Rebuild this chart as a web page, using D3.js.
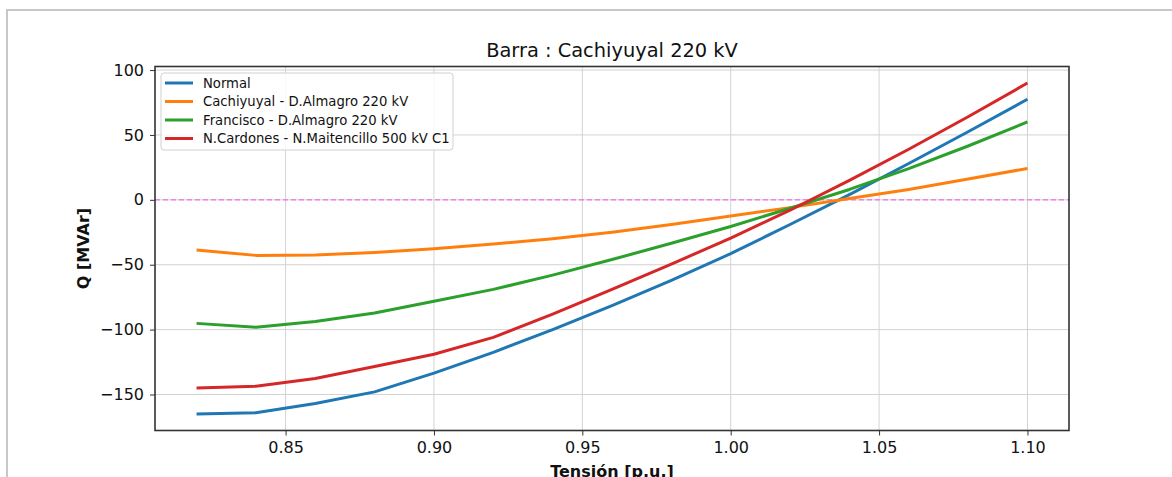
<!DOCTYPE html>
<html>
<head>
<meta charset="utf-8">
<script src="https://cdn.jsdelivr.net/npm/d3@7"></script>
<style>
  html, body { margin: 0; padding: 0; background: #fff; }
  svg { display: block; font-family: "DejaVu Sans", sans-serif; }
</style>
</head>
<body>
<svg id="chart" width="1172" height="477"></svg>
<script>
// Voltage sweep (p.u.)
const tension = [0.82, 0.84, 0.86, 0.88, 0.90, 0.92, 0.94, 0.96, 0.98, 1.00, 1.02, 1.04, 1.06, 1.08, 1.10];

// Reactive power per contingency (MVAr)
const qNormal      = [-165, -164, -157, -148, -133.5, -117.5, -100, -81.5, -62, -41.5, -19, 4, 28, 52.5, 77.5];
const qCachiyuyal  = [-38.7, -42.8, -42.6, -40.5, -37.7, -34, -30, -25, -19, -12.5, -6, 1, 8, 16, 24.2];
const qFrancisco   = [-95.2, -98.2, -93.8, -87.2, -78.2, -69, -58, -46, -33.5, -20.5, -6.5, 8, 24, 41.5, 60];
const qCardones    = [-145, -143.6, -137.7, -128.5, -119, -106, -88, -69, -49.5, -29.5, -8, 15, 39, 64, 90];

const seriesNames  = ["Normal", "Cachiyuyal - D.Almagro 220 kV", "Francisco - D.Almagro 220 kV", "N.Cardones - N.Maitencillo 500 kV C1"];
const seriesColors = ["#1f77b4", "#ff7f0e", "#2ca02c", "#d62728"];

const xTicks = [0.85, 0.90, 0.95, 1.00, 1.05, 1.10];
const yTicks = [-150, -100, -50, 0, 50, 100];

const titleText = "Barra : Cachiyuyal 220 kV";
const xLabel = "Tensión [p.u.]";
const yLabel = "Q [MVAr]";

const series = [qNormal, qCachiyuyal, qFrancisco, qCardones].map((vals, i) => ({
  name: seriesNames[i],
  color: seriesColors[i],
  points: tension.map((t, j) => [t, vals[j]])
}));

const svg = d3.select("#chart");
const W = 1172, H = 477;

// outer frame
svg.append("line").attr("x1", 6).attr("x2", W).attr("y1", 10).attr("y2", 10)
  .attr("stroke", "#c8c8c8").attr("stroke-width", 2);
svg.append("line").attr("x1", 7).attr("x2", 7).attr("y1", 9).attr("y2", H)
  .attr("stroke", "#c8c8c8").attr("stroke-width", 2);

const plot = { left: 155, right: 1069, top: 66.5, bottom: 430.5 };

// 5% padding around the data extent
const allVals = series.flatMap(s => s.points.map(p => p[1]));
const xMin = d3.min(tension), xMax = d3.max(tension);
const yMin = d3.min(allVals), yMax = d3.max(allVals);
const xPad = (xMax - xMin) * 0.05, yPad = (yMax - yMin) * 0.05;

const x = d3.scaleLinear().domain([xMin - xPad, xMax + xPad]).range([plot.left, plot.right]);
const y = d3.scaleLinear().domain([yMin - yPad, yMax + yPad]).range([plot.bottom, plot.top]);

// grid
const grid = svg.append("g");
grid.selectAll(".gx").data(xTicks).join("line")
  .attr("x1", d => x(d)).attr("x2", d => x(d))
  .attr("y1", plot.top).attr("y2", plot.bottom)
  .attr("stroke", "#d3d3d3").attr("stroke-width", 1);
grid.selectAll(".gy").data(yTicks).join("line")
  .attr("x1", plot.left).attr("x2", plot.right)
  .attr("y1", d => y(d)).attr("y2", d => y(d))
  .attr("stroke", "#d3d3d3").attr("stroke-width", 1);

// zero reference line
svg.append("line")
  .attr("x1", plot.left).attr("x2", plot.right)
  .attr("y1", y(0)).attr("y2", y(0))
  .attr("stroke", "violet").attr("stroke-width", 1.5)
  .attr("stroke-dasharray", "5,3");

// series lines
const line = d3.line().x(d => x(d[0])).y(d => y(d[1]));
svg.append("g").selectAll("path").data(series).join("path")
  .attr("d", d => line(d.points))
  .attr("fill", "none")
  .attr("stroke", d => d.color)
  .attr("stroke-width", 3)
  .attr("stroke-linejoin", "round");

// axes
const xAxis = svg.append("g").attr("transform", `translate(0,${plot.bottom})`)
  .call(d3.axisBottom(x).tickValues(xTicks).tickFormat(d3.format(".2f")).tickSizeOuter(0).tickSize(5).tickPadding(6));
const yAxis = svg.append("g").attr("transform", `translate(${plot.left},0)`)
  .call(d3.axisLeft(y).tickValues(yTicks).tickFormat(d => d < 0 ? "\u2212" + Math.abs(d) : d).tickSizeOuter(0).tickSize(5).tickPadding(6));
[xAxis, yAxis].forEach(a => {
  a.select(".domain").remove();
  a.selectAll("line").attr("stroke", "#333").attr("stroke-width", 1);
  a.selectAll("text").attr("fill", "#111").attr("font-size", 16).attr("font-family", "DejaVu Sans");
});

// spines
svg.append("rect")
  .attr("x", plot.left).attr("y", plot.top)
  .attr("width", plot.right - plot.left).attr("height", plot.bottom - plot.top)
  .attr("fill", "none").attr("stroke", "#333").attr("stroke-width", 1.6);

// title and axis labels
const cx = (plot.left + plot.right) / 2;
svg.append("text").attr("x", cx).attr("y", 57).attr("text-anchor", "middle")
  .attr("font-size", 19.4).attr("fill", "#111").text(titleText);
svg.append("text").attr("x", cx).attr("y", 477).attr("text-anchor", "middle")
  .attr("font-size", 16).attr("font-weight", "bold").attr("fill", "#111").text(xLabel);
svg.append("text")
  .attr("transform", `translate(89,${(plot.top + plot.bottom) / 2}) rotate(-90)`)
  .attr("text-anchor", "middle")
  .attr("font-size", 16).attr("font-weight", "bold").attr("fill", "#111").text(yLabel);

// legend
const lg = svg.append("g").attr("transform", "translate(161,73)");
lg.append("rect").attr("x", 0).attr("y", 0).attr("width", 292).attr("height", 77)
  .attr("rx", 3).attr("fill", "#fff").attr("fill-opacity", 0.85)
  .attr("stroke", "#d0d0d0").attr("stroke-width", 1);
const rows = lg.selectAll("g").data(series).join("g")
  .attr("transform", (d, i) => `translate(0,${10 + i * 18.5})`);
rows.append("line").attr("x1", 4).attr("x2", 32).attr("y1", 0).attr("y2", 0)
  .attr("stroke", d => d.color).attr("stroke-width", 3);
rows.append("text").attr("x", 42).attr("y", 0).attr("dy", "0.35em")
  .attr("font-size", 13.2).attr("fill", "#111").text(d => d.name);
</script>
</body>
</html>
